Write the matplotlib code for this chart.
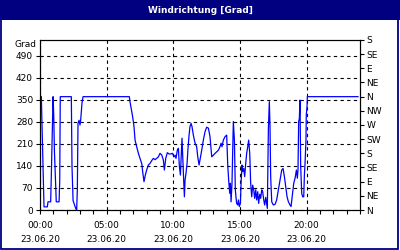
import numpy as np
import matplotlib
matplotlib.use("Agg")
import matplotlib.pyplot as plt
from matplotlib.patches import Rectangle

# wind direction, hours since 00:00 on 23.06.20
hours = [0.10, 0.15, 0.30, 0.55, 0.60, 0.80, 0.85, 0.98, 1.03, 1.08, 1.15, 1.22,
         1.43, 1.48, 1.52, 2.35, 2.40, 2.48, 2.60, 2.68, 2.75, 2.80, 2.85, 2.93,
         3.00, 3.05, 3.10, 3.15, 3.23, 6.70, 6.75, 6.88, 6.95, 7.05, 7.13, 7.25,
         7.38, 7.50, 7.63, 7.70, 7.80, 7.90, 8.00, 8.13, 8.25, 8.38, 8.50, 8.63,
         8.75, 8.88, 9.00, 9.13, 9.25, 9.33, 9.43, 9.55, 9.68, 9.80, 9.93, 10.05,
         10.13, 10.20, 10.30, 10.38, 10.45, 10.53, 10.58, 10.65, 10.73, 10.78,
         10.83, 10.88, 10.95, 11.03, 11.10, 11.18, 11.25, 11.33, 11.40, 11.50,
         11.63, 11.75, 11.83, 11.93, 12.13, 12.25, 12.38, 12.50, 12.63, 12.75,
         12.88, 13.00, 13.13, 13.25, 13.38, 13.50, 13.58, 13.65, 13.75, 13.88,
         14.00, 14.08, 14.15, 14.23, 14.28, 14.33, 14.40, 14.45, 14.50, 14.58,
         14.65, 14.70, 14.75, 14.83, 14.88, 14.95, 15.03, 15.08, 15.15, 15.20,
         15.28, 15.35, 15.43, 15.50, 15.58, 15.65, 15.73, 15.80, 15.88, 15.95,
         16.03, 16.10, 16.18, 16.25, 16.33, 16.40, 16.48, 16.55, 16.63, 16.70,
         16.78, 16.85, 16.93, 17.05, 17.13, 17.20, 17.25, 17.30, 17.38, 17.50,
         17.63, 17.75, 17.88, 18.00, 18.13, 18.23, 18.33, 18.43, 18.53, 18.63,
         18.75, 18.83, 18.93, 19.03, 19.13, 19.23, 19.30, 19.35, 19.40, 19.45,
         19.50, 19.55, 19.63, 19.70, 19.78, 19.83, 19.88, 19.95, 19.97, 20.03,
         20.05, 23.85]
grad = [360, 275, 10, 10, 26, 26, 111, 360, 300, 190, 106, 26,
        26, 93, 360, 360, 138, 30, 15, 5, 0, 64, 275, 285,
        270, 285, 312, 340, 360, 360, 344, 312, 296, 265, 222, 201,
        180, 164, 148, 122, 90, 111, 127, 143, 148, 157, 164, 160,
        164, 169, 180, 175, 159, 127, 164, 182, 178, 178, 180, 169,
        174, 164, 190, 196, 140, 111, 160, 228, 138, 90,
        42, 95, 117, 148, 196, 238, 265, 275, 265, 238,
        212, 201, 169, 143, 190, 222, 249, 263, 260, 233,
        169, 174, 180, 185, 190, 201, 212, 201, 222, 233,
        238, 143, 95, 53, 85, 26, 85, 190, 281, 222,
        64, 40, 21, 16, 32, 11, 21, 85, 143, 122,
        132, 106, 148, 180, 201, 222, 180, 85, 42, 79,
        64, 37, 64, 32, 58, 21, 50, 37, 64, 58,
        32, 16, 40, 5, 259, 344, 265, 106, 26, 16,
        18, 32, 64, 95, 127, 132, 106, 74, 42, 26,
        16, 11, 48, 85, 101, 127, 101, 127, 281, 290,
        349, 138, 53, 42, 42, 111, 150, 222, 302, 330,
        360, 360]

x_ticks = [0, 5, 10, 15, 20]
x_labels = ["00:00", "05:00", "10:00", "15:00", "20:00"]
date_label = "23.06.20"
y_ticks = [0, 70, 140, 210, 280, 350, 420, 490]
compass = ["N", "NE", "E", "SE", "S", "SW", "W", "NW", "N", "NE", "E", "SE", "S"]

navy = "#000080"
fs = 6.5

fig = plt.figure(figsize=(4, 2.5), dpi=100)
fig.patch.set_facecolor("white")

# title bar and frame
fig.patches.append(Rectangle((0, 0.92), 1, 0.08, transform=fig.transFigure,
                             facecolor=navy, edgecolor="none", zorder=0))
fig.patches.append(Rectangle((0.002, 0.006), 0.994, 0.99, transform=fig.transFigure,
                             facecolor="none", edgecolor=navy, lw=1.3, zorder=0))
fig.text(0.5, 0.958, "Windrichtung [Grad]", color="white", fontsize=6.5,
         fontweight="heavy", ha="center", va="center")

ax = fig.add_axes([0.1, 0.16, 0.8, 0.68])
ax.plot(hours, grad, color="#0000ff", lw=0.9)
ax.set_xlim(0, 24)
ax.set_ylim(0, 540)

ax.set_xticks(x_ticks)
ax.set_xticklabels([l + "\n" + date_label for l in x_labels], fontsize=fs, linespacing=1.75)
ax.set_xticks(np.arange(0, 25, 1), minor=True)
ax.set_yticks(y_ticks)
ax.set_yticklabels([str(v) for v in y_ticks], fontsize=fs)
ax.tick_params(axis="both", which="both", direction="out", length=3, width=0.8, pad=2)
ax.tick_params(axis="x", which="major", pad=5)
ax.grid(True, which="major", color="black", ls=(0, (3, 3)), lw=0.8)
for s in ax.spines.values():
    s.set_linewidth(0.8)
ax.text(-0.012, 0.975, "Grad", transform=ax.transAxes, ha="right", va="center", fontsize=fs)

ax2 = ax.twinx()
ax2.set_ylim(0, 540)
ax2.set_yticks(np.arange(0, 541, 45))
ax2.set_yticklabels(compass, fontsize=fs)
ax2.tick_params(axis="y", direction="out", length=3, width=0.8, pad=1.5)
for s in ax2.spines.values():
    s.set_linewidth(0.8)

fig.savefig("out.png", dpi=100, facecolor="white")
